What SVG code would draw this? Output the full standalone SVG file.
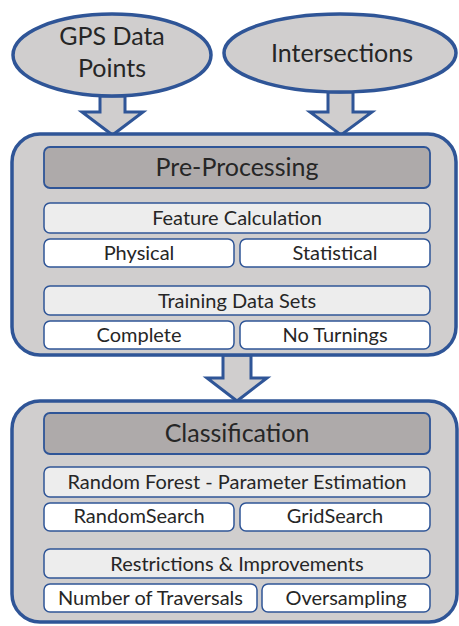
<svg xmlns="http://www.w3.org/2000/svg" width="459" height="626" viewBox="0 0 459 626">
<style>
.big{fill:#d0cece;stroke:#2f5597;stroke-width:3.5}
.hdr{fill:#aeaaaa;stroke:#2f5597;stroke-width:1.8}
.sub{fill:#ededed;stroke:#2f5597;stroke-width:1.5}
.leaf{fill:#ffffff;stroke:#2f5597;stroke-width:1.5}
.arr{fill:#d0cece;stroke:#2f5597;stroke-width:3;stroke-linejoin:miter}
text{font-family:Lato,"Open Sans","Liberation Sans",sans-serif;fill:#262626;text-anchor:middle}
.t24{font-size:25px}
.t19{font-size:20px}
</style>
<rect width="459" height="626" fill="#ffffff"/>
<g id="connectors">
<path class="arr" d="M100,96 L125,96 L125,112 L143,112 L112.5,135 L82,112 L100,112 Z"/>
<path class="arr" d="M328,92 L353,92 L353,112 L372,112 L341,135 L310,112 L328,112 Z"/>
<path class="arr" d="M223,355 L251,355 L251,378 L267,378 L237,401 L207,378 L223,378 Z"/>
</g>
<g id="gps">
<ellipse cx="112" cy="55" rx="99" ry="41" fill="#d0cece" stroke="#2f5597" stroke-width="3.5"/>
<text class="t24" x="112" y="45">GPS Data</text>
<text class="t24" x="112" y="77">Points</text>
</g>
<g id="intersections">
<ellipse cx="340" cy="53" rx="116" ry="39" fill="#d0cece" stroke="#2f5597" stroke-width="3.5"/>
<text class="t24" x="342" y="62">Intersections</text>
</g>
<g id="preprocessing">
<rect class="big" x="12" y="134" width="444" height="221" rx="28"/>
</g>
<g id="pp-header">
<rect class="hdr" x="44" y="147" width="386" height="41" rx="6"/>
<text class="t24" x="237" y="176">Pre-Processing</text>
</g>
<g id="feature-calc">
<rect class="sub" x="44" y="203" width="386" height="30" rx="6"/>
<text class="t19" x="237" y="225">Feature Calculation</text>
</g>
<g id="physical">
<rect class="leaf" x="44" y="239" width="190" height="28" rx="6"/>
<text class="t19" x="139" y="260">Physical</text>
</g>
<g id="statistical">
<rect class="leaf" x="240" y="239" width="190" height="28" rx="6"/>
<text class="t19" x="335" y="260">Statistical</text>
</g>
<g id="training">
<rect class="sub" x="44" y="286" width="386" height="29" rx="6"/>
<text class="t19" x="237" y="308">Training Data Sets</text>
</g>
<g id="complete">
<rect class="leaf" x="44" y="321" width="190" height="28" rx="6"/>
<text class="t19" x="139" y="342">Complete</text>
</g>
<g id="noturnings">
<rect class="leaf" x="240" y="321" width="190" height="28" rx="6"/>
<text class="t19" x="335" y="342">No Turnings</text>
</g>
<g id="classification">
<rect class="big" x="12" y="401" width="445" height="221" rx="28"/>
</g>
<g id="cl-header">
<rect class="hdr" x="44" y="413" width="386" height="41" rx="6"/>
<text class="t24" x="237" y="442">Classification</text>
</g>
<g id="randomforest">
<rect class="sub" x="44" y="467" width="386" height="30" rx="6"/>
<text class="t19" x="237" y="489">Random Forest - Parameter Estimation</text>
</g>
<g id="randomsearch">
<rect class="leaf" x="44" y="503" width="190" height="28" rx="6"/>
<text class="t19" x="139" y="523">RandomSearch</text>
</g>
<g id="gridsearch">
<rect class="leaf" x="240" y="503" width="190" height="28" rx="6"/>
<text class="t19" x="335" y="523">GridSearch</text>
</g>
<g id="restrictions">
<rect class="sub" x="44" y="549" width="386" height="29" rx="6"/>
<text class="t19" x="237" y="571">Restrictions &amp; Improvements</text>
</g>
<g id="traversals">
<rect class="leaf" x="44" y="584" width="213" height="28" rx="6"/>
<text class="t19" x="150.5" y="605">Number of Traversals</text>
</g>
<g id="oversampling">
<rect class="leaf" x="262" y="584" width="168" height="28" rx="6"/>
<text class="t19" x="346" y="605">Oversampling</text>
</g>
</svg>
